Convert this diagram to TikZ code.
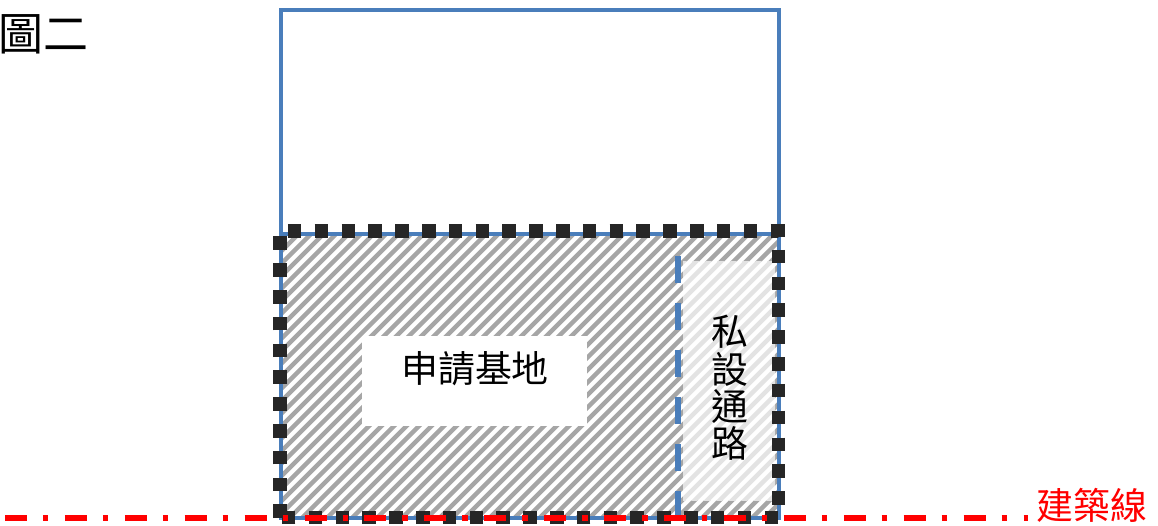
\documentclass[tikz,border=0pt]{standalone}
\usepackage{fontspec}
\setmainfont{Noto Sans CJK TC}
\definecolor{lineblue}{HTML}{4A7EBB}
\definecolor{hatchgray}{HTML}{A6A6A6}
\definecolor{hatchlight}{HTML}{E3E3E3}
\definecolor{dotblack}{HTML}{262626}
\tikzset{
    bluebox/.style={draw=lineblue, line width=2.3pt},
    dotline/.style={draw=dotblack, line width=7.8pt, dash pattern=on 7.7pt off 7.56pt},
    redline/.style={draw=red, line width=2.9pt, dash pattern=on 12.5pt off 9.1pt on 3.1pt off 9.4pt},
    label/.style={inner sep=0pt, font=\fontsize{21}{25}\selectfont},
}
\begin{document}
\begin{tikzpicture}[x=0.02cm, y=-0.02cm]
    \useasboundingbox (0,0) rectangle (1158,526);
    % hatching
    \begin{scope}
        \clip (281,234) rectangle (779,518);
        \foreach \s in {495,507.5,...,1320}
            \draw[hatchgray, line width=2.5pt] (\s,0) -- ++(-560,560);
    \end{scope}
    % private road part
    \fill[white] (683,262) rectangle (775,500);
    \begin{scope}
        \clip (683,262) rectangle (775,500);
        \foreach \s in {495,507.5,...,1320}
            \draw[hatchlight, line width=2.5pt] (\s,0) -- ++(-560,560);
    \end{scope}
    \fill[white] (362,336) rectangle (587,426);
    % outlines
    \draw[bluebox] (281,10) rectangle (779,518);
    \draw[bluebox] (281,234) -- (779,234);
    \draw[bluebox, line width=3.7pt, dash pattern=on 15.2pt off 11.55pt] (678,256) -- (678,518);
    \draw[dotline] (280,518) -- (280,231) -- (778.5,231) -- (778.5,517.5) -- (280,517.5);
    \draw[redline] (5,518) -- (1028,518);
    % labels
    \node[label, font=\fontsize{25.6}{30}\selectfont, anchor=west] (title) at (-2,34) {圖二};
    \node[label] (site) at (475,369) {申請基地};
    \node[label, align=center, font=\fontsize{21}{21.2}\selectfont] (road) at (730,388) {私\\設\\通\\路};
    \node[label, text=red, anchor=west] (setback) at (1036,505) {建築線};
\end{tikzpicture}
\end{document}
